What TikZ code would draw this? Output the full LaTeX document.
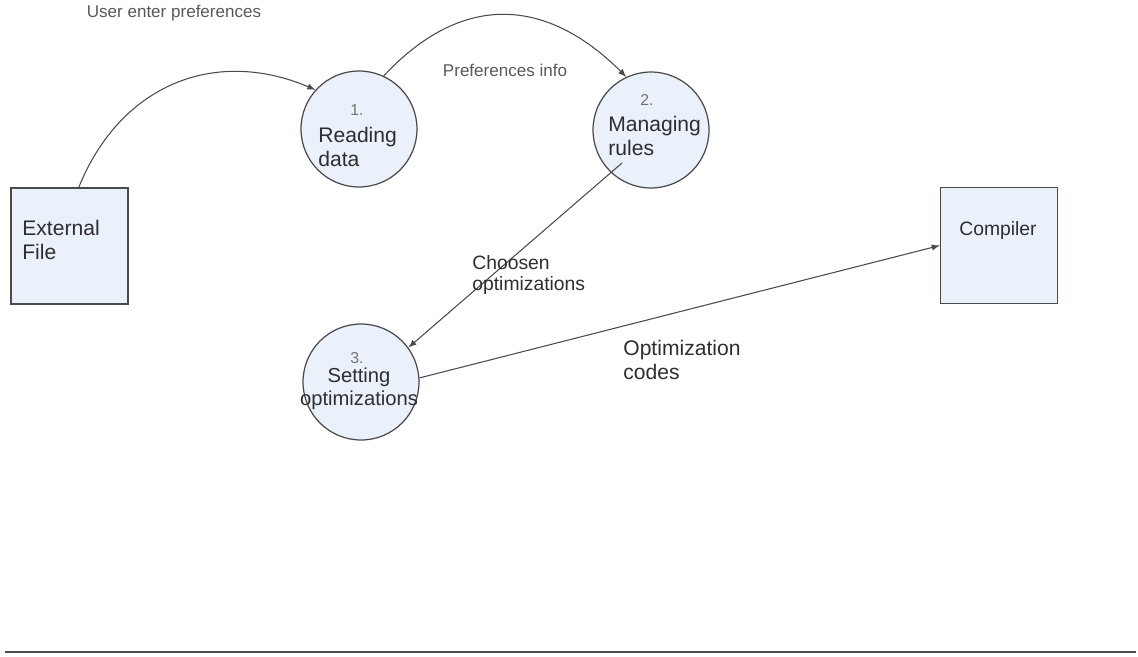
\documentclass[tikz,border=0pt]{standalone}
\usepackage{fontspec}
\setmainfont{Liberation Sans}
\usepackage{tikz}
\usetikzlibrary{arrows}
\definecolor{procfill}{HTML}{EBF1FB}
\definecolor{edgecolor}{HTML}{4A4A4A}
\definecolor{textcolor}{HTML}{2E2E2E}

\begin{document}
\begin{tikzpicture}[x=0.02cm,y=-0.02cm,
    entity/.style={draw=edgecolor,line width=0.8pt,fill=procfill,minimum width=2.34cm,minimum height=2.32cm,inner sep=0pt},
    process/.style={circle,draw=edgecolor,line width=0.7pt,fill=procfill,minimum size=2.32cm,inner sep=0pt},
    flow/.style={draw=edgecolor,line width=0.6pt,-latex},
    txt/.style={text=textcolor,align=left,inner sep=0pt,font=\fontsize{12}{13.5}\selectfont},
    small/.style={text=black!65,inner sep=0pt,font=\fontsize{9.7}{11}\selectfont},
    num/.style={text=black!55,inner sep=0pt,font=\fontsize{9}{10}\selectfont}]
  \useasboundingbox (0,0) rectangle (1138,656);
  % stores and processes
  \node[entity] (ext) at (69.5,246) {};
  \node[entity] (comp) at (999,245.5) {};
  \node[process] (r1) at (359,129) {};
  \node[process] (r2) at (651,130) {};
  \node[process] (r3) at (361,382) {};
  % texts
  \node[txt,anchor=west] (exttext) at (22,240) {External\\File};
  \node[txt,font=\fontsize{11}{12}\selectfont] (comptext) at (998,230) {Compiler};
  \node[num] (n1) at (357,110) {1.};
  \node[txt,anchor=west] (r1text) at (318,147) {Reading\\data};
  \node[num] (n2) at (647,100) {2.};
  \node[txt,anchor=west,font=\fontsize{12}{14}\selectfont] (r2text) at (608,136) {Managing\\rules};
  \node[num] (n3) at (357,358) {3.};
  \node[txt,align=center,font=\fontsize{11.5}{13}\selectfont] (r3text) at (359,389) {Setting\\optimizations};
  % flows
  \draw[flow] (ext.81) to[out=68,in=157,looseness=1.1] (r1.138);
  \draw[flow] (r1.65) to[out=47,in=135,looseness=1.2] (r2.115);
  \coordinate (r2in) at (622,163);
  \draw[flow] (r2in) -- (r3.36);
  \draw[flow] (r3.4) -- (comp.west);
  % flow labels
  \node[small] (userpref) at (174,13) {User enter preferences};
  \node[small] (prefinfo) at (505,70) {Preferences info};
  \node[txt,anchor=west,font=\fontsize{11}{11.5}\selectfont] (chosen) at (472,275) {Choosen\\optimizations};
  \node[txt,anchor=west,font=\fontsize{12}{13.6}\selectfont] (optcodes) at (623,360) {Optimization\\codes};
  \draw[edgecolor,line width=1.1pt] (5,652) -- (1136,652);
\end{tikzpicture}
\end{document}
